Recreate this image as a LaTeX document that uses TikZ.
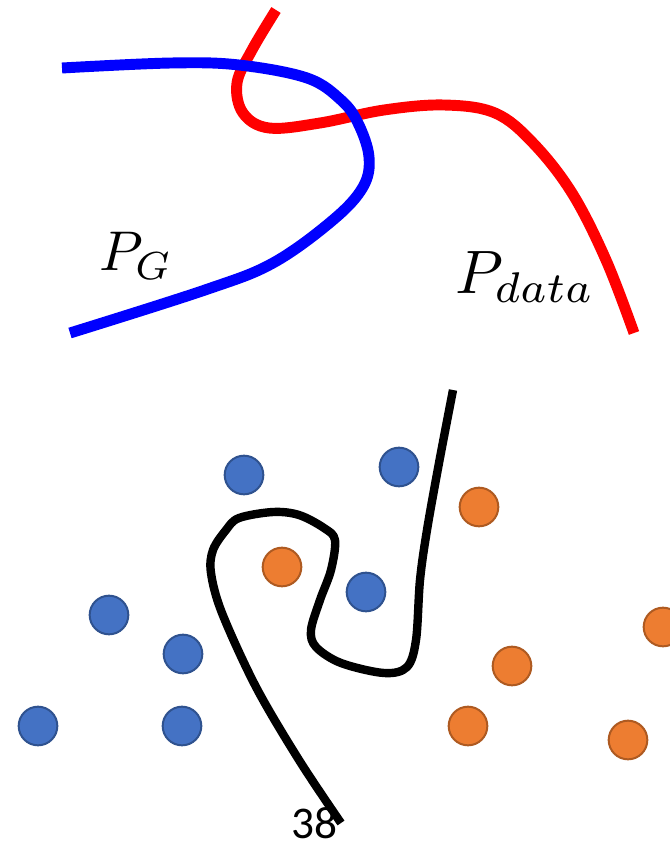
\documentclass[tikz,border=0pt]{standalone}
\usepackage{fontspec}
\newfontfamily\numfont{Carlito}
\definecolor{dotblue}{HTML}{4472C4}
\definecolor{dotblueb}{HTML}{2F528F}
\definecolor{dotorange}{HTML}{ED7D31}
\definecolor{dotorangeb}{HTML}{AE5A21}
\begin{document}
\begin{tikzpicture}[x=0.75pt,y=-0.75pt,
  bdot/.style={circle,fill=dotblue,draw=dotblueb,line width=1.5pt,minimum size=29pt,inner sep=0pt},
  odot/.style={circle,fill=dotorange,draw=dotorangeb,line width=1.5pt,minimum size=29pt,inner sep=0pt},
  curve/.style={line width=8.2pt,line join=round},
  lbl/.style={inner sep=0pt}]
\useasboundingbox (0,0) rectangle (669,845);
% red curve P_data
\draw[curve,red] plot[smooth,tension=0.6] coordinates {(276,10) (252,50) (237,83) (243,113) (269,128) (320,123) (384,110) (444,105) (495,113) (533,143) (572,193) (606,260) (634,333)};
% blue curve P_G
\draw[curve,blue] plot[smooth,tension=0.6] coordinates {(62,68) (171,63) (239,65) (307,78) (341,100) (358,123) (369,157) (363,187) (333,220) (273,263) (205,290) (70,333)};
\node[lbl] (pg) at (136,256) {\scalebox{4.2}{$P_G$}};
\node[lbl] (pdata) at (525,277) {\scalebox{4.6}{$P_{data}$}};
% dots
\node[bdot] (b1) at (244,475) {};
\node[bdot] (b2) at (399,467) {};
\node[bdot] (b3) at (366,592) {};
\node[bdot] (b4) at (109,615) {};
\node[bdot] (b5) at (183,654) {};
\node[bdot] (b6) at (38,726) {};
\node[bdot] (b7) at (182,726) {};
\node[odot] (o1) at (479,507) {};
\node[odot] (o2) at (282,567) {};
\node[odot] (o3) at (663,627) {};
\node[odot] (o4) at (512,666) {};
\node[odot] (o5) at (468,726) {};
\node[odot] (o6) at (628,740) {};
% black boundary
\draw[line width=6.3pt,line join=round,black] plot[smooth,tension=0.55] coordinates {(453,390) (439,463) (427,530) (420,580) (416,640) (407,667) (384,673) (341,663) (316,647) (311,630) (320,600) (331,570) (335,540) (324,528) (299,515) (273,512) (239,518) (226,530) (213,550) (211,573) (222,613) (256,687) (299,760) (341,823)};
\node[inner sep=0pt] (num) at (314,823) {\numfont\fontsize{34}{36}\selectfont 38};
\end{tikzpicture}
\end{document}
